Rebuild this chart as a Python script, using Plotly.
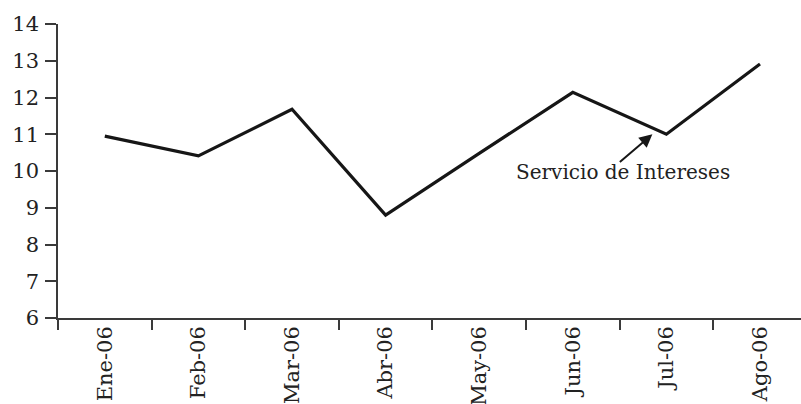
import plotly.graph_objects as go

# Monthly series: interest service
months = ["Ene-06", "Feb-06", "Mar-06", "Abr-06", "May-06", "Jun-06", "Jul-06", "Ago-06"]
servicio = [10.95, 10.41, 11.68, 8.80, 10.48, 12.14, 11.00, 12.91]
y_ticks = [6, 7, 8, 9, 10, 11, 12, 13, 14]
series_label = "Servicio de Intereses"

FONT = "DejaVu Serif"
AXIS_COLOR = "#3a3a3a"

fig = go.Figure()
fig.add_trace(go.Scatter(
    x=months, y=servicio, mode="lines",
    line=dict(color="#161616", width=3.2),
    showlegend=False, hoverinfo="skip",
))

# Arrow pointing at the Jun-Jul segment just before the Jul point
tip_x = 6 - 0.15
tip_y = servicio[6]
fig.add_annotation(
    x=tip_x, y=tip_y, xref="x", yref="y",
    ax=-34, ay=29, text="",
    showarrow=True, arrowhead=2, arrowsize=1.3, arrowwidth=2,
    arrowcolor="#161616", standoff=0,
)
fig.add_annotation(
    x=tip_x, y=tip_y, xref="x", yref="y",
    text=series_label, showarrow=False,
    xshift=-29, yshift=-38,
    font=dict(family=FONT, size=20, color="#222222"),
)

fig.update_layout(
    width=801, height=404,
    margin=dict(l=58, r=0, t=24, b=86),
    paper_bgcolor="white", plot_bgcolor="white",
    font=dict(family=FONT, color="#222222"),
)

fig.update_xaxes(
    type="category",
    range=[-0.5, 7.438],
    tickson="boundaries", ticks="outside", ticklen=10, tickwidth=1.5,
    tickcolor=AXIS_COLOR, tickangle=-90,
    tickfont=dict(family=FONT, size=21, color="#222222"),
    ticklabelstandoff=-2,
    showline=True, linecolor=AXIS_COLOR, linewidth=1.5,
    showgrid=False, zeroline=False, fixedrange=True, automargin=False,
)
fig.update_yaxes(
    range=[6, 14],
    tickmode="array", tickvals=y_ticks,
    ticks="outside", ticklen=11, tickwidth=1.5, tickcolor=AXIS_COLOR,
    tickfont=dict(family=FONT, size=21, color="#222222"),
    ticklabelstandoff=2,
    showline=True, linecolor=AXIS_COLOR, linewidth=1.5,
    showgrid=False, zeroline=False, fixedrange=True, automargin=False,
)

fig.write_html("out.html")
